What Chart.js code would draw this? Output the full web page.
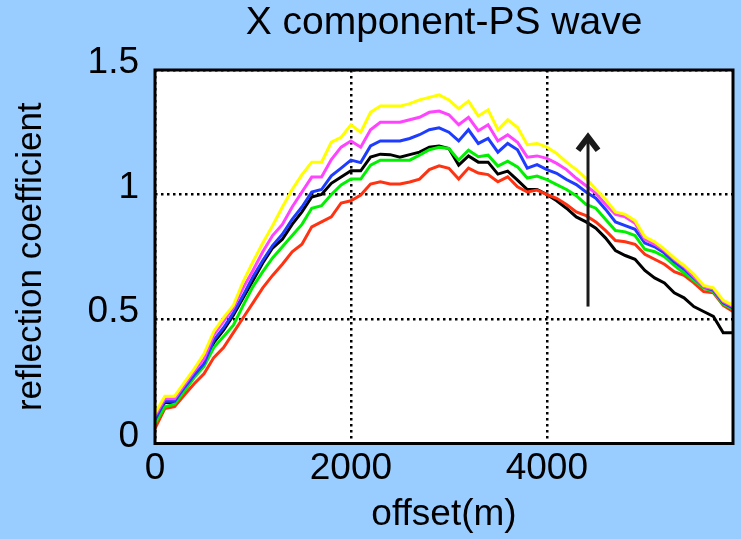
<!DOCTYPE html>
<html>
<head>
<meta charset="utf-8">
<script src="https://cdn.jsdelivr.net/npm/chart.js@4/dist/chart.umd.min.js"></script>
<style>
  html, body { margin: 0; padding: 0; background: #99CCFF; }
  #c { display: block; }
</style>
</head>
<body>
<canvas id="c" width="741" height="539"></canvas>
<script>
// Offsets (m), one sample every 100 m
const offsets = [
  0, 100, 200, 300, 400, 500, 600, 700, 800, 900,
  1000, 1100, 1200, 1300, 1400, 1500, 1600, 1700, 1800, 1900,
  2000, 2100, 2200, 2300, 2400, 2500, 2600, 2700, 2800, 2900,
  3000, 3100, 3200, 3300, 3400, 3500, 3600, 3700, 3800, 3900,
  4000, 4100, 4200, 4300, 4400, 4500, 4600, 4700, 4800, 4900,
  5000, 5100, 5200, 5300, 5400, 5500, 5600, 5700, 5800, 5900
];

// Reflection coefficient curves
const yellowCurve = [
  0.12, 0.19, 0.19, 0.245, 0.30, 0.36, 0.45, 0.505, 0.555, 0.65,
  0.73, 0.805, 0.875, 0.95, 1.02, 1.08, 1.13, 1.13, 1.21, 1.23,
  1.28, 1.25, 1.33, 1.355, 1.355, 1.355, 1.365, 1.38, 1.39, 1.40,
  1.38, 1.345, 1.375, 1.315, 1.34, 1.26, 1.30, 1.27, 1.20, 1.205,
  1.19, 1.165, 1.13, 1.10, 1.065, 1.02, 0.98, 0.93, 0.92, 0.895,
  0.83, 0.81, 0.78, 0.745, 0.715, 0.68, 0.635, 0.625, 0.575, 0.555
];
const magentaCurve = [
  0.11, 0.18, 0.18, 0.235, 0.29, 0.34, 0.435, 0.49, 0.545, 0.625,
  0.695, 0.77, 0.835, 0.88, 0.95, 1.01, 1.07, 1.07, 1.14, 1.19,
  1.215, 1.19, 1.26, 1.29, 1.29, 1.29, 1.30, 1.31, 1.33, 1.335,
  1.32, 1.28, 1.31, 1.256, 1.28, 1.215, 1.24, 1.21, 1.15, 1.155,
  1.145, 1.125, 1.10, 1.065, 1.035, 1.005, 0.96, 0.92, 0.91, 0.885,
  0.82, 0.80, 0.775, 0.74, 0.71, 0.67, 0.63, 0.62, 0.57, 0.55
];
const blueCurve = [
  0.095, 0.17, 0.17, 0.225, 0.275, 0.32, 0.415, 0.465, 0.525, 0.595,
  0.67, 0.735, 0.795, 0.84, 0.90, 0.95, 1.01, 1.02, 1.075, 1.106,
  1.138, 1.128, 1.195, 1.215, 1.215, 1.215, 1.225, 1.24, 1.26, 1.268,
  1.25, 1.215, 1.26, 1.205, 1.225, 1.17, 1.205, 1.18, 1.106, 1.12,
  1.10, 1.085, 1.06, 1.04, 1.01, 0.985, 0.94, 0.89, 0.875, 0.86,
  0.805, 0.79, 0.765, 0.73, 0.70, 0.665, 0.63, 0.615, 0.565, 0.545
];
const greenCurve = [
  0.08, 0.147, 0.158, 0.21, 0.265, 0.31, 0.385, 0.43, 0.475, 0.555,
  0.63, 0.69, 0.745, 0.79, 0.835, 0.88, 0.945, 0.955, 1.0, 1.038,
  1.062, 1.062, 1.118, 1.138, 1.138, 1.138, 1.138, 1.158, 1.18, 1.19,
  1.185, 1.138, 1.178, 1.152, 1.158, 1.114, 1.134, 1.111, 1.066, 1.074,
  1.06, 1.04, 1.02, 0.995, 0.96, 0.945, 0.90, 0.855, 0.85, 0.835,
  0.78, 0.77, 0.75, 0.715, 0.685, 0.655, 0.625, 0.61, 0.56, 0.54
];
const redCurve = [
  0.06, 0.14, 0.148, 0.195, 0.24, 0.28, 0.345, 0.385, 0.445, 0.505,
  0.565, 0.625, 0.675, 0.72, 0.77, 0.80, 0.87, 0.89, 0.91, 0.966,
  0.975, 0.998, 1.042, 1.051, 1.042, 1.042, 1.05, 1.062, 1.10, 1.115,
  1.105, 1.062, 1.106, 1.086, 1.08, 1.051, 1.071, 1.031, 1.01, 1.018,
  1.0, 0.985, 0.96, 0.93, 0.915, 0.89, 0.855, 0.815, 0.81, 0.80,
  0.76, 0.74, 0.72, 0.69, 0.675, 0.645, 0.61, 0.605, 0.555, 0.53
];
const blackCurve = [
  0.09, 0.165, 0.165, 0.22, 0.27, 0.315, 0.405, 0.455, 0.515, 0.585,
  0.655, 0.725, 0.785, 0.82, 0.88, 0.93, 0.99, 1.0, 1.045, 1.07,
  1.095, 1.095, 1.15, 1.162, 1.16, 1.15, 1.16, 1.17, 1.19, 1.195,
  1.185, 1.118, 1.155, 1.13, 1.13, 1.082, 1.094, 1.058, 1.02, 1.02,
  1.0, 0.975, 0.945, 0.91, 0.89, 0.865, 0.825, 0.775, 0.755, 0.74,
  0.695, 0.665, 0.645, 0.605, 0.585, 0.55, 0.53, 0.51, 0.445, 0.445
];

// Axis ticks
const xTicks = [0, 2000, 4000];
const yTicks = [0, 0.5, 1, 1.5];

// Trend arrow (data units)
const arrowX = 4420;
const arrowFrom = 0.55;
const arrowTo = 1.25;

const FONT = "'Liberation Sans', Arial, Helvetica, sans-serif";

function series(values, color) {
  return {
    data: offsets.map((x, i) => ({ x: x, y: values[i] })),
    borderColor: color,
    borderWidth: 3,
    pointRadius: 0,
    fill: false,
    tension: 0
  };
}

const plotFrame = {
  id: 'plotFrame',
  beforeDraw(chart) {
    const { ctx, chartArea: a } = chart;
    ctx.save();
    ctx.fillStyle = '#ffffff';
    ctx.fillRect(a.left, a.top, a.right - a.left, a.bottom - a.top);
    ctx.restore();
  },
  afterDatasetsDraw(chart) {
    const { ctx, chartArea: a, scales } = chart;
    ctx.save();
    // arrow
    const ax = scales.x.getPixelForValue(arrowX);
    const y0 = scales.y.getPixelForValue(arrowFrom);
    const y1 = scales.y.getPixelForValue(arrowTo);
    ctx.strokeStyle = '#1a1a1a';
    ctx.lineWidth = 3;
    ctx.beginPath();
    ctx.moveTo(ax, y0);
    ctx.lineTo(ax, y1 + 3);
    ctx.stroke();
    ctx.lineWidth = 6;
    ctx.lineJoin = 'miter';
    ctx.beginPath();
    ctx.moveTo(ax - 10, y1 + 18);
    ctx.lineTo(ax, y1 + 5);
    ctx.lineTo(ax + 10, y1 + 18);
    ctx.stroke();
    // frame
    ctx.strokeStyle = '#000000';
    ctx.lineWidth = 3;
    ctx.strokeRect(a.left, a.top, a.right - a.left, a.bottom - a.top);
    ctx.restore();
  }
};

new Chart(document.getElementById('c'), {
  type: 'line',
  data: {
    datasets: [
      series(yellowCurve, '#FFFF00'),
      series(magentaCurve, '#FF44FF'),
      series(blueCurve, '#1E3CFF'),
      series(greenCurve, '#00F000'),
      series(redCurve, '#FF3311'),
      series(blackCurve, '#000000')
    ]
  },
  options: {
    responsive: false,
    devicePixelRatio: 1,
    animation: false,
    layout: { padding: { left: 0, right: 8, top: 0, bottom: 0 } },
    plugins: {
      legend: { display: false },
      tooltip: { enabled: false },
      title: {
        display: true,
        fullSize: false,
        text: 'X component-PS wave',
        color: '#000',
        font: { family: FONT, size: 39, weight: 'normal', lineHeight: 1.2 },
        padding: { top: 0, bottom: 23.2 }
      }
    },
    scales: {
      x: {
        type: 'linear',
        min: 0,
        max: 5900,
        afterBuildTicks(scale) { scale.ticks = xTicks.map(v => ({ value: v })); },
        afterFit(scale) { scale.height = 95.5; },
        grid: { color: '#000', lineWidth: 2.5, drawTicks: false },
        border: { display: false, dash: [2.5, 3.5] },
        ticks: {
          color: '#000',
          padding: 3,
          maxRotation: 0,
          font: { family: FONT, size: 37 },
          callback: v => String(v)
        },
        title: {
          display: true,
          text: 'offset(m)',
          color: '#000',
          font: { family: FONT, size: 37 },
          padding: { top: 0, bottom: 2 }
        }
      },
      y: {
        type: 'linear',
        min: 0,
        max: 1.5,
        afterBuildTicks(scale) { scale.ticks = yTicks.map(v => ({ value: v })); },
        afterFit(scale) { scale.width = 155; },
        grid: { color: '#000', lineWidth: 2.5, drawTicks: false },
        border: { display: false, dash: [2.5, 3.5] },
        ticks: {
          color: '#000',
          padding: 16,
          labelOffset: -7,
          font: { family: FONT, size: 37 },
          callback: v => String(v)
        },
        title: {
          display: true,
          text: 'reflection coefficient',
          color: '#000',
          font: { family: FONT, size: 35 },
          padding: { top: 10, bottom: 0 }
        }
      }
    }
  },
  plugins: [plotFrame]
});
</script>
</body>
</html>
